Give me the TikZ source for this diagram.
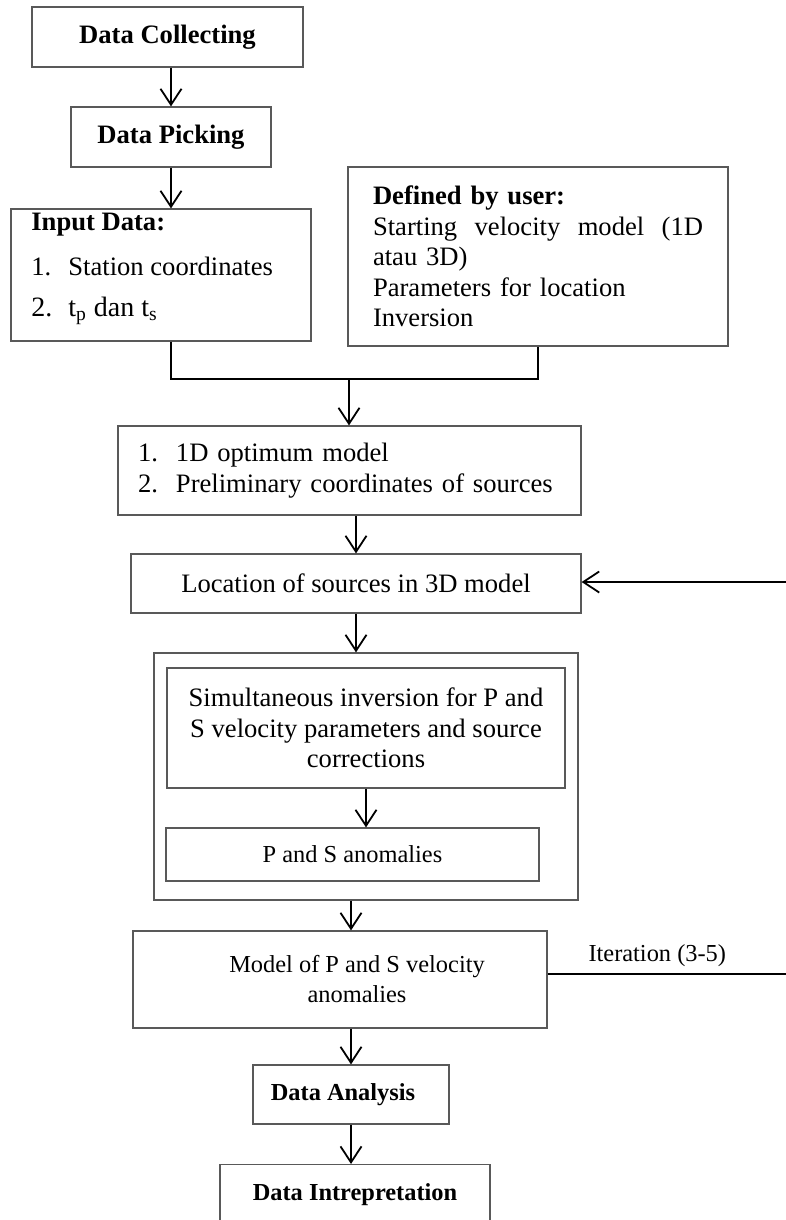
\documentclass[tikz,border=0pt]{standalone}
\usepackage{fontspec}
\setmainfont{Liberation Serif}
\usetikzlibrary{arrows.meta, positioning}

\begin{document}
\begin{tikzpicture}[
    x=0.5pt, y=-0.5pt,
    font=\fontsize{13.3}{15.3}\selectfont,
    box/.style={draw=black!65, line width=0.6pt, inner sep=0pt, align=center},
    smallbox/.style={box, font=\fontsize{12.2}{15}\selectfont},
    arr/.style={-{Straight Barb[length=8pt, width=10.5pt]}, line width=0.9pt},
    conn/.style={line width=0.9pt}
]
\useasboundingbox (0, 0) rectangle (786, 1220);
\clip (0, 0) rectangle (786, 1220);

% Boxes
\node[box, minimum width=135.5pt, minimum height=30pt] (collect) at (167.5, 37) {\textbf{Data Collecting}};
\node[box, minimum width=100pt, minimum height=30pt] (pick) at (171, 137) {\textbf{Data Picking}};
\node[box, minimum width=150pt, minimum height=66pt] (input) at (161, 275) {};
\node[anchor=north west, inner sep=0pt, align=left] (inputtxt) at (31, 213) {\textbf{Input Data:}\\[7pt] \makebox[18.5pt][l]{1.}Station coordinates\\[5pt] {\fontsize{14}{17}\selectfont\makebox[18.5pt][l]{2.}t\textsubscript{p} dan t\textsubscript{s}}};
\node[box, minimum width=190pt, minimum height=89.5pt, text width=165pt, align=left] (defined) at (538, 256.5) {\textbf{Defined by user:}\\ \makebox[165pt][l]{Starting\hfill velocity\hfill model\hfill (1D}\\ atau 3D)\\ Parameters for location\\ Inversion};
\node[box, minimum width=231.5pt, minimum height=44.5pt, text width=211.5pt, align=left] (optimum) at (349.5, 470.5) {\makebox[19pt][l]{1.}1D optimum model\\ \makebox[19pt][l]{2.}Preliminary coordinates of sources};
\node[box, minimum width=225pt, minimum height=29.5pt] (location) at (356, 583.5) {Location of sources in 3D model};
\node[box, minimum width=212pt, minimum height=123.5pt] (outer) at (366, 776.5) {};
\node[box, minimum width=199pt, minimum height=60pt] (sim) at (366, 728) {Simultaneous inversion for P and\\ S velocity parameters and source\\ corrections};
\node[smallbox, minimum width=186.5pt, minimum height=26.5pt] (anom) at (352.5, 854.5) {P and S anomalies};
\node[smallbox, minimum width=207pt, minimum height=48.5pt] (model) at (340, 979.5) {\hspace*{17pt}Model of P and S velocity\\ \hspace*{17pt}anomalies};
\node[smallbox, minimum width=98pt, minimum height=29.5pt] (analysis) at (351, 1094.5) {\textbf{Data Analysis}\hspace*{8pt}};
\node[smallbox, minimum width=135pt, anchor=north, text height=9pt, text depth=30pt, inner ysep=9pt] (interp) at (355, 1164) {\textbf{Data Intrepretation}};

% Arrows
\draw[arr] (pick.north |- collect.south) -- (pick.north);
\draw[arr] (pick.south) -- (pick.south |- input.north);
\coordinate (merge) at (349, 379);
\draw[conn] (pick.south |- input.south) |- (merge) -| (defined.south);
\draw[arr] (merge) -- (merge |- optimum.north);
\draw[arr] (location.north |- optimum.south) -- (location.north);
\draw[arr] (location.south) -- (location.south |- outer.north);
\draw[arr] (sim.south) -- (sim.south |- anom.north);
\draw[arr] (outer.south -| analysis.north) -- (analysis.north |- model.north);
\draw[arr] (analysis.north |- model.south) -- (analysis.north);
\draw[arr] (analysis.south) -- (analysis.south |- interp.north);

% Iteration
\coordinate (loopend) at (786, 974);
\coordinate (loopstart) at (786, 582);
\draw[conn] (model.east |- loopend) -- node[pos=0.46, above, font=\fontsize{12.2}{15}\selectfont] (iter) {Iteration (3-5)} (loopend);
\draw[arr] (loopstart) -- (location.east |- loopstart);

\end{tikzpicture}
\end{document}
